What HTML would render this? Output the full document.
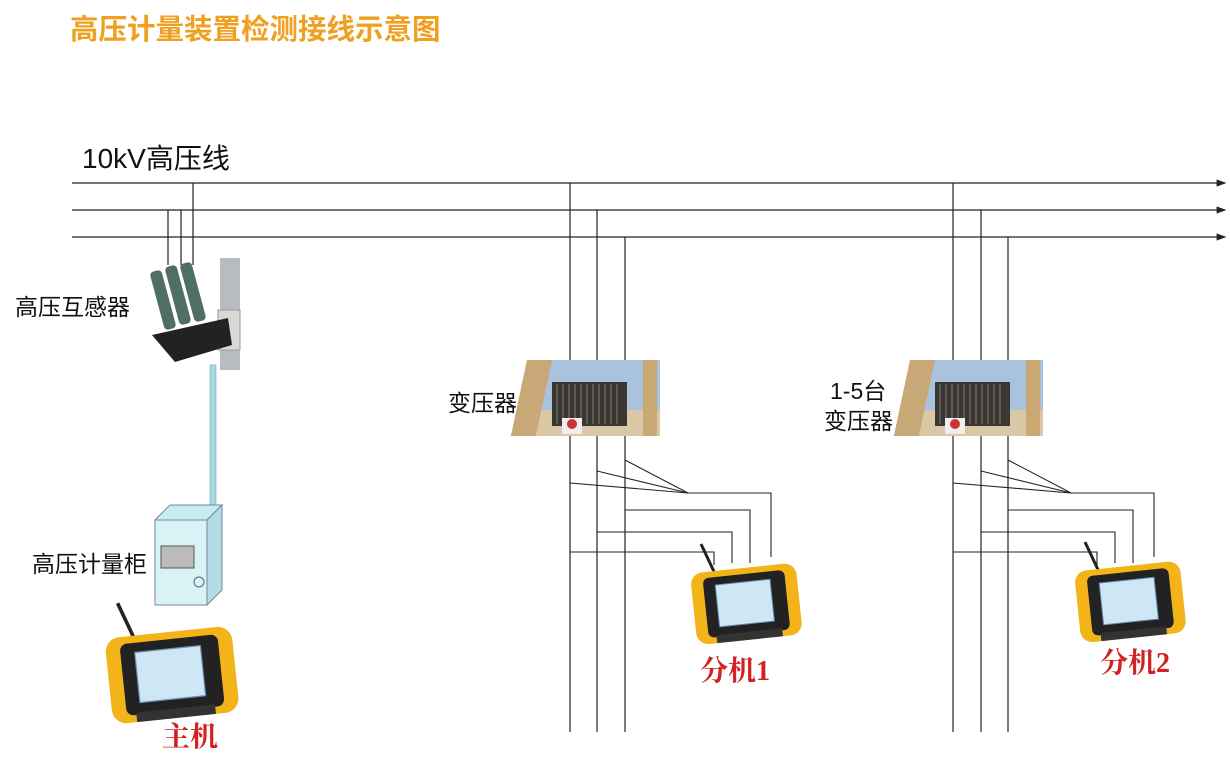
<!DOCTYPE html>
<html><head><meta charset="utf-8"><style>
html,body{margin:0;padding:0;background:#fff;}
svg{display:block;}
.t{font-family:"Liberation Sans","Noto Sans CJK SC",sans-serif;fill:#111;}
.r{font-family:"Liberation Serif","Noto Serif CJK SC",serif;fill:#d42020;font-weight:bold;}
</style></head><body>
<svg width="1230" height="765" viewBox="0 0 1230 765" xmlns="http://www.w3.org/2000/svg">
<defs>
<marker id="ar" markerWidth="8" markerHeight="6" refX="7" refY="3" orient="auto"><path d="M0,0 L8,3 L0,6 z" fill="#222"/></marker>
<g id="dev">
 <line x1="8" y1="-14" x2="24" y2="20" stroke="#222" stroke-width="3"/>
 <g transform="rotate(-6 52 42)">
  <rect x="0" y="10" width="106" height="72" rx="12" fill="#f2b419"/>
  <rect x="12" y="16" width="82" height="60" rx="6" fill="#222"/>
  <rect x="24" y="24" width="55" height="42" fill="#cfe6f4"/>
  <rect x="24" y="24" width="55" height="42" fill="none" stroke="#6a8fb0"/>
  <rect x="20" y="74" width="66" height="8" fill="#333"/>
 </g>
</g>
<g id="tr">
 <rect x="0" y="0" width="133" height="76" fill="#a9c3de"/>
 <rect x="0" y="50" width="133" height="26" fill="#d9c7a5"/>
 <rect x="0" y="0" width="25" height="76" fill="#c9a878" transform="skewX(-12)"/>
 <rect x="116" y="0" width="14" height="76" fill="#caa873"/>
 <rect x="25" y="22" width="75" height="44" fill="#3a3632"/>
 <g stroke="#6a6560" stroke-width="1.5">
  <line x1="30" y1="24" x2="30" y2="64"/><line x1="36" y1="24" x2="36" y2="64"/><line x1="42" y1="24" x2="42" y2="64"/><line x1="48" y1="24" x2="48" y2="64"/><line x1="54" y1="24" x2="54" y2="64"/><line x1="60" y1="24" x2="60" y2="64"/><line x1="66" y1="24" x2="66" y2="64"/><line x1="72" y1="24" x2="72" y2="64"/><line x1="78" y1="24" x2="78" y2="64"/><line x1="84" y1="24" x2="84" y2="64"/><line x1="90" y1="24" x2="90" y2="64"/>
 </g>
 <rect x="35" y="58" width="20" height="16" fill="#eee"/><circle cx="45" cy="64" r="5" fill="#c33"/>
</g>
</defs>

<text x="70" y="39" font-size="28.5" fill="#f0a020" font-weight="bold" style="font-family:'Liberation Sans','Noto Sans CJK SC',sans-serif;">高压计量装置检测接线示意图</text>
<text class="t" x="82" y="168" font-size="28">10kV高压线</text>

<g stroke="#222" stroke-width="1.2" fill="none">
 <line x1="72" y1="183" x2="1225" y2="183" marker-end="url(#ar)"/>
 <line x1="72" y1="210" x2="1225" y2="210" marker-end="url(#ar)"/>
 <line x1="72" y1="237" x2="1225" y2="237" marker-end="url(#ar)"/>
 <line x1="168" y1="210" x2="168" y2="265"/>
 <line x1="181" y1="210" x2="181" y2="265"/>
 <line x1="193" y1="183" x2="193" y2="265"/>
</g>

<!-- CT -->
<rect x="220" y="258" width="20" height="112" fill="#b8bcbe"/>
<rect x="218" y="310" width="22" height="40" fill="#d8d8d4" stroke="#999"/>
<g fill="#4f6e66">
 <rect x="157" y="270" width="12" height="60" rx="4" transform="rotate(-15 163 300)"/>
 <rect x="172" y="265" width="12" height="60" rx="4" transform="rotate(-15 178 295)"/>
 <rect x="187" y="262" width="12" height="60" rx="4" transform="rotate(-15 193 292)"/>
</g>
<polygon points="152,335 228,318 232,345 175,362" fill="#222"/>
<rect x="210" y="365" width="6" height="140" fill="#a9d8e2" stroke="#7ab" stroke-width="0.6"/>
<!-- cabinet -->
<polygon points="155,520 170,505 222,505 207,520" fill="#c8ecf2" stroke="#789"/>
<polygon points="207,520 222,505 222,590 207,605" fill="#b2dde6" stroke="#789"/>
<rect x="155" y="520" width="52" height="85" fill="#d8f2f6" stroke="#789"/>
<rect x="161" y="546" width="33" height="22" fill="#bbb" stroke="#555"/>
<circle cx="199" cy="582" r="5" fill="none" stroke="#567"/>

<text class="t" x="15" y="315" font-size="23">高压互感器</text>
<text class="t" x="32" y="572" font-size="23">高压计量柜</text>

<use href="#dev" transform="translate(108,620) scale(1.2)"/>
<text class="r" x="162" y="746" font-size="28">主机</text>

<!-- Transformer 1 -->
<g stroke="#222" stroke-width="1.2" fill="none">
 <line x1="570" y1="183" x2="570" y2="732"/>
 <line x1="597" y1="210" x2="597" y2="732"/>
 <line x1="625" y1="237" x2="625" y2="732"/>
</g>
<use href="#tr" x="527" y="360"/>
<g stroke="#222" stroke-width="1.1" fill="none">
 <polyline points="570,483 688,493"/>
 <polyline points="597,471 688,493"/>
 <polyline points="625,460 688,493 771,493 771,557"/>
 <polyline points="625,510 750,510 750,563"/>
 <polyline points="597,532 732,532 732,563"/>
 <polyline points="570,552 714,552 714,565"/>
</g>
<use href="#dev" transform="translate(693,558)"/>
<text class="t" x="448" y="411" font-size="23">变压器</text>
<text class="r" x="700" y="680" font-size="28">分机1</text>

<!-- Transformer 2 -->
<g stroke="#222" stroke-width="1.2" fill="none">
 <line x1="953" y1="183" x2="953" y2="732"/>
 <line x1="981" y1="210" x2="981" y2="732"/>
 <line x1="1008" y1="237" x2="1008" y2="732"/>
</g>
<use href="#tr" x="910" y="360"/>
<g stroke="#222" stroke-width="1.1" fill="none">
 <polyline points="953,483 1071,493"/>
 <polyline points="981,471 1071,493"/>
 <polyline points="1008,460 1071,493 1154,493 1154,557"/>
 <polyline points="1008,510 1133,510 1133,563"/>
 <polyline points="981,532 1115,532 1115,563"/>
 <polyline points="953,552 1097,552 1097,565"/>
</g>
<use href="#dev" transform="translate(1077,556)"/>
<text class="t" x="830" y="399" font-size="23">1-5台</text>
<text class="t" x="824" y="429" font-size="23">变压器</text>
<text class="r" x="1100" y="672" font-size="28">分机2</text>
</svg>
</body></html>
